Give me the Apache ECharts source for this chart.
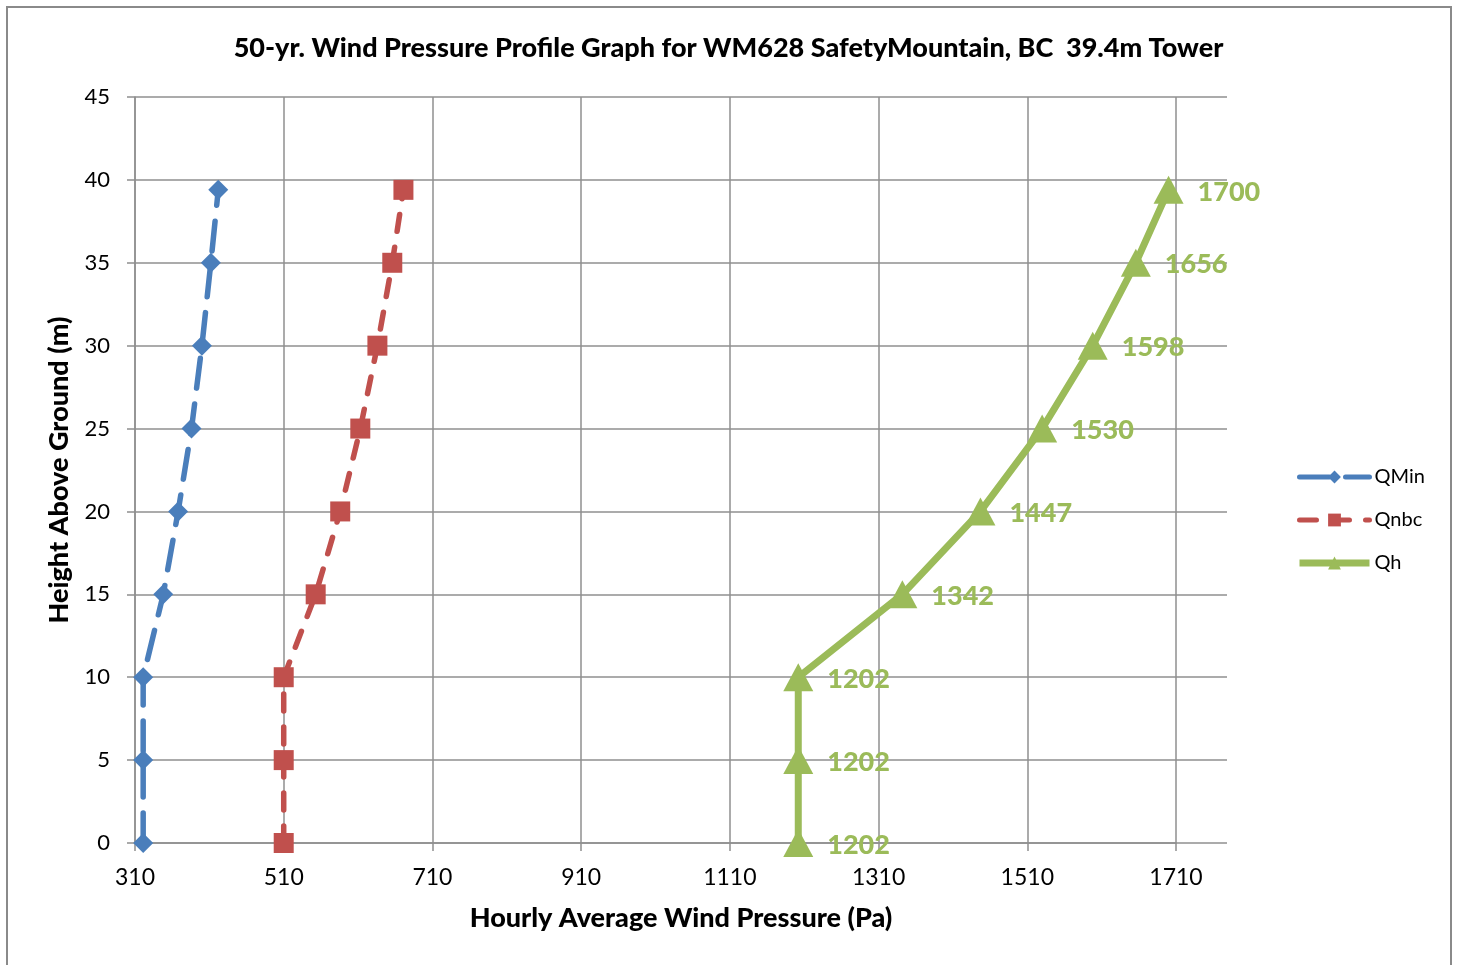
<!DOCTYPE html>
<html>
<head>
<meta charset="utf-8">
<title>50-yr. Wind Pressure Profile</title>
<script src="https://cdn.jsdelivr.net/npm/echarts@6.0.0/dist/echarts.min.js"></script>
<style>
  html, body { margin: 0; padding: 0; background: #fff; }
  #main { width: 1457px; height: 965px; }
</style>
</head>
<body>
<div id="main"></div>
<script>
// heights (m) and wind pressures (Pa)
const heights = [0, 5, 10, 15, 20, 25, 30, 35, 39.4]
const qMin = [321, 321, 321, 348, 368, 386, 400, 412, 422]
const qNbc = [510, 510, 510, 553, 586, 613, 636, 656, 671]
const qH = [1202, 1202, 1202, 1342, 1447, 1530, 1598, 1656, 1700]

// axis ticks
const xMin = 310
const xMax = 1710
const xStep = 200
const xPlotMax = 1780 // plot area runs a bit past the last tick
const yMin = 0
const yMax = 45
const yStep = 5

const font = 'Lato, "Noto Sans", sans-serif'
const gridColor = '#8f8f8f'

const pairs = arr => arr.map((v, i) => [v, heights[i]])

const myChart = echarts.init(document.getElementById('main'))

myChart.setOption({
  animation: false,
  textStyle: { fontFamily: font },
  title: {
    text: '50-yr. Wind Pressure Profile Graph for WM628 SafetyMountain, BC  39.4m Tower',
    left: 'center',
    top: 30,
    textStyle: { fontSize: 27, fontWeight: 900, color: '#000', fontFamily: font }
  },
  legend: {
    orient: 'vertical',
    left: 1291,
    top: 462,
    itemWidth: 70,
    itemHeight: 16,
    itemGap: 23,
    textStyle: { fontSize: 20, color: '#000' },
    data: [
      { name: 'QMin', lineStyle: { width: 5 } },
      { name: 'Qnbc', lineStyle: { width: 5 } },
      { name: 'Qh', lineStyle: { width: 7 } }
    ]
  },
  graphic: [
    {
      type: 'rect',
      shape: { x: 7, y: 7, width: 1444, height: 980 },
      style: { fill: 'none', stroke: '#8a8a8a', lineWidth: 2 },
      silent: true
    }
  ],
  grid: [
    // grid 0: full plot area (horizontal grid lines, y axis, x axis title)
    { left: 135, top: 97, right: 230, bottom: 122 },
    // grid 1: up to the last x tick (vertical grid lines, x labels, data)
    { left: 135, top: 97, right: 281, bottom: 122 }
  ],
  xAxis: [
    {
      gridIndex: 0,
      type: 'value',
      min: xMin,
      max: xPlotMax,
      name: 'Hourly Average Wind Pressure (Pa)',
      nameLocation: 'middle',
      nameGap: 62,
      nameTextStyle: { fontSize: 27, fontWeight: 900, color: '#000' },
      axisLine: { show: false },
      axisTick: { show: false },
      axisLabel: { show: false },
      splitLine: { show: false }
    },
    {
      gridIndex: 1,
      type: 'value',
      min: xMin,
      max: xMax,
      interval: xStep,
      axisLine: { show: true, lineStyle: { color: gridColor, width: 1.5 } },
      axisTick: { show: true, length: 8, lineStyle: { color: gridColor, width: 1.5 } },
      axisLabel: { fontSize: 23, color: '#000', margin: 23, formatter: v => String(v) },
      splitLine: { show: true, lineStyle: { color: gridColor, width: 1.5 } }
    }
  ],
  yAxis: [
    {
      gridIndex: 0,
      type: 'value',
      min: yMin,
      max: yMax,
      interval: yStep,
      name: 'Height Above Ground (m)',
      nameLocation: 'middle',
      nameGap: 62,
      nameTextStyle: { fontSize: 27, fontWeight: 900, color: '#000' },
      axisLine: { show: true, lineStyle: { color: gridColor, width: 1.5 } },
      axisTick: { show: true, length: 8, lineStyle: { color: gridColor, width: 1.5 } },
      axisLabel: { fontSize: 22, color: '#000', margin: 25 },
      splitLine: { show: true, lineStyle: { color: gridColor, width: 1.5 } }
    },
    {
      gridIndex: 1,
      type: 'value',
      min: yMin,
      max: yMax,
      show: false,
      splitLine: { show: false }
    }
  ],
  series: [
    {
      name: 'QMin',
      type: 'line',
      xAxisIndex: 1,
      yAxisIndex: 1,
      data: pairs(qMin),
      clip: false,
      symbol: 'diamond',
      symbolSize: 20,
      color: '#4a7ebb',
      itemStyle: { color: '#4a7ebb' },
      lineStyle: { color: '#4a7ebb', width: 5.5, type: [30, 16], cap: 'round' }
    },
    {
      name: 'Qnbc',
      type: 'line',
      xAxisIndex: 1,
      yAxisIndex: 1,
      data: pairs(qNbc),
      clip: false,
      symbol: 'rect',
      symbolSize: 20,
      color: '#c0504d',
      itemStyle: { color: '#c0504d' },
      lineStyle: { color: '#c0504d', width: 5.5, type: [17, 16], cap: 'round' }
    },
    {
      name: 'Qh',
      type: 'line',
      xAxisIndex: 1,
      yAxisIndex: 1,
      data: pairs(qH),
      clip: false,
      symbol: 'triangle',
      symbolSize: [30, 28],
      color: '#9bbb59',
      itemStyle: { color: '#9bbb59' },
      lineStyle: { color: '#9bbb59', width: 7 },
      label: {
        show: true,
        position: 'right',
        distance: 14,
        offset: [0, 2],
        formatter: p => p.value[0],
        fontSize: 27,
        fontWeight: 900,
        color: '#9bbb59'
      },
      z: 3
    }
  ]
})
</script>
</body>
</html>
